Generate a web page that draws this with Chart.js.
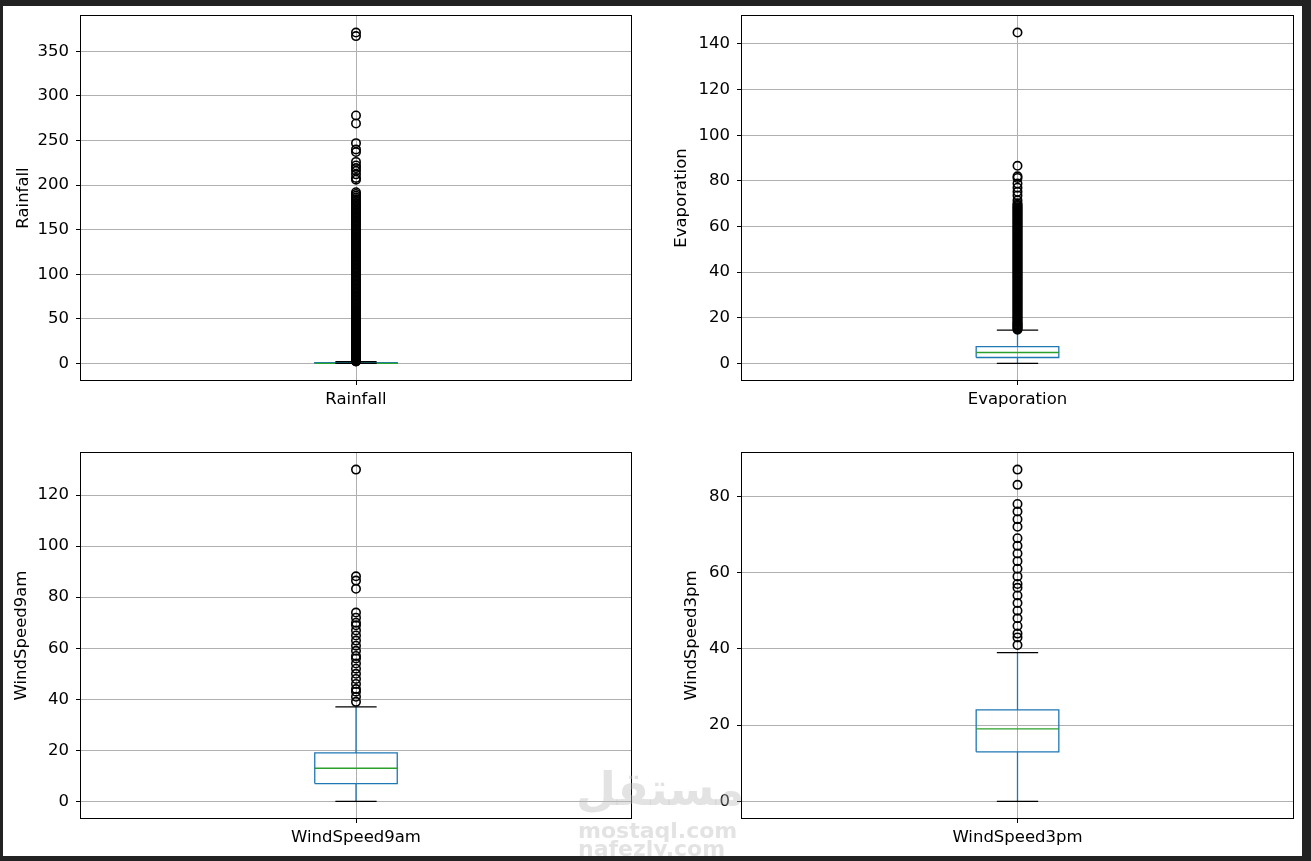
<!DOCTYPE html>
<html lang="en">
<head>
<meta charset="UTF-8">
<title>Boxplots</title>
<style>
    html, body {
        margin: 0;
        padding: 0;
    }
    body {
        background: #222;
        width: 1311px;
        height: 861px;
        position: relative;
        overflow: hidden;
        font-family: "DejaVu Sans", sans-serif;
    }
    .sheet {
        position: absolute;
        left: 3px;
        top: 6px;
        width: 1299px;
        height: 850px;
        background: #fff;
    }
    .panel {
        position: absolute;
    }
    .marks {
        position: absolute;
        left: 3px;
        top: 6px;
        width: 1299px;
        height: 850px;
        overflow: hidden;
        pointer-events: none;
    }
    .mark {
        position: absolute;
        color: rgba(185, 185, 185, 0.4);
        font-weight: bold;
        line-height: 1;
        white-space: nowrap;
    }
</style>
</head>
<body>
<div class="sheet"></div>
<div class="panel" style="left:3px;top:6px"><canvas id="c0" width="638" height="414"></canvas></div>
<div class="panel" style="left:664px;top:6px"><canvas id="c1" width="639" height="414"></canvas></div>
<div class="panel" style="left:3px;top:443px"><canvas id="c2" width="638" height="415"></canvas></div>
<div class="panel" style="left:664px;top:443px"><canvas id="c3" width="639" height="415"></canvas></div>
<div class="marks">
    <div class="mark" style="left:573px;top:760px;font-size:46px" dir="rtl">مستقل</div>
    <div class="mark" style="left:575px;top:814px;font-size:22px">mostaql.com</div>
    <div class="mark" style="left:575px;top:832px;font-size:22px">nafezly.com</div>
</div>

<script src="https://cdn.jsdelivr.net/npm/chart.js@4.4.1/dist/chart.umd.min.js"></script>
<script>
    // one box per column
    const names = ['Rainfall', 'Evaporation', 'WindSpeed9am', 'WindSpeed3pm'];
    const whiskerLow = [0, 0, 0, 0];
    const q1 = [0, 2.6, 7, 13];
    const medians = [0, 4.8, 13, 19];
    const q3 = [0.8, 7.4, 19, 24];
    const whiskerHigh = [2.0, 14.6, 37, 39];

    // outliers (dense parts listed closely)
    const rainfallFliers = [2.2, 2.4, 2.6, 2.8, 3.0, 3.2, 3.4, 3.6, 3.8, 4.0, 4.4, 4.8, 5.2, 5.6, 6.0,
        6.5, 7.0, 7.5, 8.0, 8.5, 9.0, 9.5, 10, 11, 12, 13, 14, 15, 16, 17, 18, 19, 20, 21, 22, 23,
        24, 25, 26, 27, 28, 29, 30, 31, 32, 33, 34, 35, 36, 37, 38, 39, 40, 41, 42, 43, 44, 45, 46,
        47, 48, 49, 50, 51, 52, 53, 54, 55, 56, 57, 58, 59, 60, 61.5, 63, 64.5, 66, 67.5, 69, 70.5,
        72, 73.5, 75, 76.5, 78, 79.5, 81, 82.5, 84, 85.5, 87, 88.5, 90, 91.5, 93, 94.5, 96, 97.5,
        99, 100.5, 102, 103.5, 105, 106.5, 108, 109.5, 111, 112.5, 114, 115.5, 117, 118.5, 120,
        121.5, 123, 124.5, 126, 127.5, 129, 130.5, 132, 133.5, 135, 136.5, 138, 139.5, 141, 142.5,
        144, 145.5, 147, 148.5, 150, 151.5, 153, 154.5, 156, 157.5, 159, 160.5, 162, 163.5, 165,
        166.5, 168, 169.5, 171, 172.5, 174, 175.5, 177, 178.5, 180, 182, 184, 186, 188, 190, 192,
        206, 208, 212, 216, 219, 222, 226, 237, 240, 247, 269, 278, 367, 371];
    const evaporationFliers = [14.8, 15.2, 15.6, 16.0, 16.4, 16.8, 17.2, 17.6, 18.0, 18.5, 19.0,
        19.5, 20.0, 20.5, 21.0, 21.5, 22.0, 22.5, 23.0, 23.5, 24.0, 24.5, 25.0, 25.5, 26.0, 26.5,
        27.0, 27.5, 28.0, 28.5, 29.0, 29.5, 30.0, 30.5, 31.0, 31.5, 32.0, 32.5, 33.0, 33.5, 34.0,
        34.5, 35.0, 35.5, 36.0, 36.5, 37.0, 37.5, 38.0, 38.5, 39.0, 39.5, 40.0, 40.5, 41.0, 41.5,
        42.0, 42.5, 43.0, 43.5, 44.0, 44.5, 45.0, 45.5, 46.0, 46.5, 47.0, 47.5, 48.0, 48.5, 49.0,
        49.5, 50.0, 50.5, 51.0, 51.5, 52.0, 52.5, 53.0, 53.5, 54.0, 54.5, 55.0, 55.5, 56.0, 56.5,
        57.0, 57.5, 58.0, 58.5, 59.0, 59.5, 60.0, 60.5, 61.0, 61.5, 62.0, 62.5, 63.0, 63.5, 64.0,
        64.5, 65.0, 65.5, 66.0, 66.5, 67.0, 67.5, 68.0, 68.5, 69.0, 69.5, 70.2, 71.5, 73.6, 75.2,
        77, 78.8, 81.3, 82, 86.6, 145];
    const wind9amFliers = [39, 41, 43, 44, 46, 48, 50, 52, 54, 56, 57, 59, 61, 63, 65, 67, 69, 70,
        72, 74, 83.3, 86.5, 88.2, 130];
    const wind3pmFliers = [41, 43, 44, 46, 48, 50, 52, 54, 56, 57, 59, 61, 63, 65, 67, 69, 72, 74,
        76, 78, 83, 87];
    const fliers = [rainfallFliers, evaporationFliers, wind9amFliers, wind3pmFliers];

    const yTicks = [
        [0, 50, 100, 150, 200, 250, 300, 350],
        [0, 20, 40, 60, 80, 100, 120, 140],
        [0, 20, 40, 60, 80, 100, 120],
        [0, 20, 40, 60, 80]
    ];

    const BLUE = '#1f77b4';
    const GREEN = '#2ca02c';
    const POS = 1;
    const BOX_W = 0.15;
    const LW = 1.3;
    const titlePad = [11, 8, 9, 18];
    const font = { family: 'DejaVu Sans', size: 16.5 };

    const frame = {
        id: 'frame',
        afterDatasetsDraw(chart) {
            const { ctx, chartArea: a } = chart;
            ctx.save();
            ctx.strokeStyle = '#000';
            ctx.lineWidth = 1;
            ctx.strokeRect(Math.round(a.left) - 0.5, Math.round(a.top) - 0.5,
                Math.round(a.right - a.left) + 1, Math.round(a.bottom - a.top) + 1);
            ctx.restore();
        }
    };

    function lineSet(points, color) {
        return {
            data: points,
            showLine: true,
            borderColor: color,
            borderWidth: LW,
            pointRadius: 0,
            pointHoverRadius: 0,
            fill: false
        };
    }

    function seg(x0, y0, x1, y1) {
        return [{ x: x0, y: y0 }, { x: x1, y: y1 }];
    }

    names.forEach((name, i) => {
        const h = BOX_W / 2, c = BOX_W / 4;
        const all = fliers[i].concat([whiskerLow[i], whiskerHigh[i]]);
        const lo = Math.min(...all), hi = Math.max(...all);
        const margin = (hi - lo) * 0.05;

        new Chart(document.getElementById('c' + i), {
            type: 'scatter',
            data: {
                datasets: [
                    {
                        data: fliers[i].map(v => ({ x: POS, y: v })),
                        pointRadius: 4.2,
                        pointBorderWidth: 1.6,
                        pointBorderColor: '#000',
                        pointBackgroundColor: 'rgba(0,0,0,0)',
                        showLine: false
                    },
                    lineSet(seg(POS - c, whiskerHigh[i], POS + c, whiskerHigh[i]), '#000'),
                    lineSet(seg(POS - c, whiskerLow[i], POS + c, whiskerLow[i]), '#000'),
                    lineSet(seg(POS - h, medians[i], POS + h, medians[i]), GREEN),
                    lineSet([
                        { x: POS - h, y: q1[i] }, { x: POS + h, y: q1[i] },
                        { x: POS + h, y: q3[i] }, { x: POS - h, y: q3[i] },
                        { x: POS - h, y: q1[i] }
                    ], BLUE),
                    lineSet(seg(POS, q3[i], POS, whiskerHigh[i]), BLUE),
                    lineSet(seg(POS, q1[i], POS, whiskerLow[i]), BLUE)
                ]
            },
            options: {
                responsive: false,
                animation: false,
                events: [],
                layout: { padding: { top: 10, right: 10, left: 0, bottom: 0 } },
                plugins: {
                    legend: { display: false },
                    tooltip: { enabled: false }
                },
                scales: {
                    x: {
                        type: 'linear',
                        min: 0.5,
                        max: 1.5,
                        afterBuildTicks: s => { s.ticks = [{ value: POS }]; },
                        ticks: {
                            callback: () => name,
                            color: '#000',
                            font: font,
                            padding: 5,
                            maxRotation: 0,
                            autoSkip: false
                        },
                        grid: { color: '#b0b0b0', lineWidth: 1, tickColor: '#000', tickLength: 5, tickWidth: 1 },
                        border: { display: false },
                        afterFit: s => { s.height = 40; s.paddingLeft = 0; s.paddingRight = 0; }
                    },
                    y: {
                        type: 'linear',
                        min: lo - margin,
                        max: hi + margin,
                        afterBuildTicks: s => { s.ticks = yTicks[i].map(v => ({ value: v })); },
                        ticks: {
                            callback: v => String(v),
                            color: '#000',
                            font: font,
                            padding: 7
                        },
                        grid: { color: '#b0b0b0', lineWidth: 1, tickColor: '#000', tickLength: 5, tickWidth: 1 },
                        border: { display: false },
                        title: {
                            display: true,
                            text: name,
                            color: '#000',
                            font: font,
                            padding: { top: titlePad[i], bottom: 0 }
                        },
                        afterFit: s => { s.width = 78; s.paddingTop = 0; s.paddingBottom = 0; }
                    }
                }
            },
            plugins: [frame]
        });
    });
</script>
</body>
</html>
